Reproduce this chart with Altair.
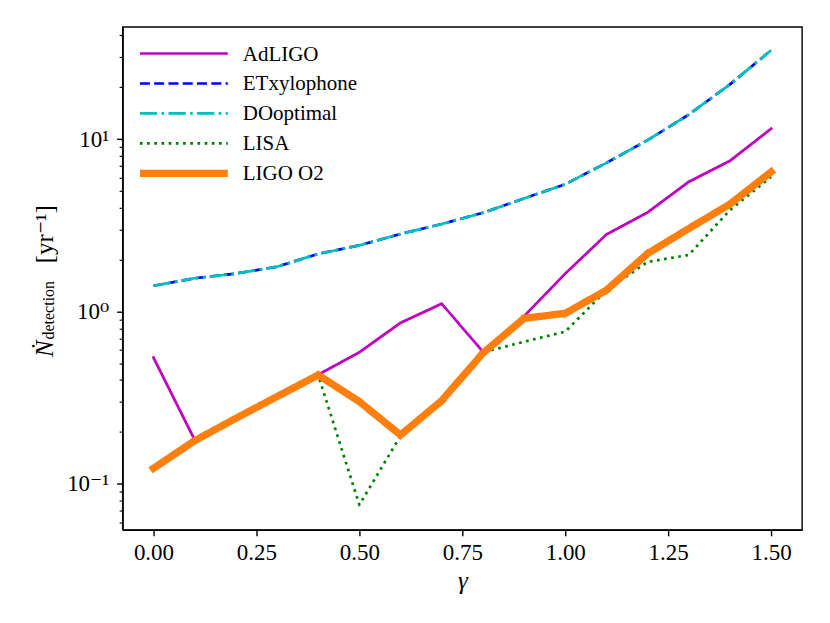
import altair as alt
import pandas as pd

# ---- data ----
gamma = [0.0, 0.1, 0.2, 0.3, 0.4, 0.5, 0.6, 0.7, 0.8, 0.9, 1.0, 1.1, 1.2, 1.3, 1.4, 1.5]
adligo = [0.54, 0.18, 0.24, 0.321, 0.43, 0.58, 0.86, 1.11, 0.585, 0.94, 1.66, 2.8, 3.76, 5.66, 7.49, 11.5]
etxylophone = [1.41, 1.56, 1.66, 1.82, 2.16, 2.42, 2.82, 3.22, 3.74, 4.53, 5.48, 7.29, 9.87, 13.9, 20.8, 32.8]
dooptimal = [1.41, 1.56, 1.66, 1.82, 2.16, 2.42, 2.82, 3.22, 3.74, 4.53, 5.48, 7.29, 9.87, 13.9, 20.8, 32.8]
lisa = [0.123, 0.178, 0.24, 0.321, 0.428, 0.0755, 0.19, 0.304, 0.58, 0.668, 0.764, 1.33, 1.94, 2.13, 3.88, 6.04]
ligo_o2 = [0.123, 0.178, 0.24, 0.321, 0.428, 0.30, 0.192, 0.304, 0.573, 0.913, 0.976, 1.33, 2.17, 3.03, 4.2, 6.46]

names = ["AdLIGO", "ETxylophone", "DOoptimal", "LISA", "LIGO O2"]
series = [adligo, etxylophone, dooptimal, lisa, ligo_o2]
colors = ["#bf00bf", "#0000ff", "#00bfbf", "#008000", "#ff7f0e"]
dashes = [[1, 0], [10, 4.3], [17.3, 4.3, 2.7, 4.3], [2.7, 4.5], [1, 0]]
widths = [2.7, 2.7, 2.7, 2.7, 7.2]

x_ticks = [0.0, 0.25, 0.5, 0.75, 1.0, 1.25, 1.5]
y_major = [0.1, 1, 10]
y_minor = [0.06, 0.07, 0.08, 0.09, 0.2, 0.3, 0.4, 0.5, 0.6, 0.7, 0.8, 0.9,
           2, 3, 4, 5, 6, 7, 8, 9, 20, 30, 40]

rows = []
for n, vals in zip(names, series):
    for g, v in zip(gamma, vals):
        rows.append({"gamma": g, "value": v, "series": n})
df = pd.DataFrame(rows)
legend_df = pd.DataFrame({"series": names})

FONT = "Liberation Serif, Times New Roman, Times, DejaVu Serif, serif"

x_scale = alt.Scale(domain=[-0.075, 1.575], nice=False, zero=False)
y_scale = alt.Scale(type="log", domain=[0.0541, 44.8], nice=False)

x_axis = alt.Axis(values=x_ticks, format=".2f", title="γ", titleFontStyle="italic",
                  titleFontWeight="normal", titleFont=FONT, titleFontSize=25,
                  titlePadding=4, labelFont=FONT, labelFontSize=23, labelColor="black",
                  tickSize=6, tickWidth=1.4, tickColor="black", domainColor="black",
                  domainWidth=1.4, labelPadding=6, grid=False, labelFlush=False)
y_axis = alt.Axis(values=y_major, orient="left", title=None,
                  labelExpr="datum.value < 0.5 ? '10⁻¹' : (datum.value < 5 ? '10⁰' : '10¹')",
                  labelFont=FONT, labelFontSize=23, labelColor="black", labelPadding=8,
                  tickSize=6, tickWidth=1.4, tickColor="black", domainColor="black",
                  domainWidth=1.4, grid=False, labelBaseline="middle")
y_minor_axis = alt.Axis(values=y_minor, orient="left", title=None, labels=False,
                        tickSize=3.5, tickWidth=1.1, tickColor="black", domain=False,
                        grid=False)

color = alt.Color("series:N", scale=alt.Scale(domain=names, range=colors), legend=None)
dash = alt.StrokeDash("series:N", scale=alt.Scale(domain=names, range=dashes), legend=None)

layers = []
for n, d, w in zip(names, dashes, widths):
    cap = "square" if d == [1, 0] else "butt"
    layers.append(
        alt.Chart(df).transform_filter(alt.datum.series == n)
        .mark_line(strokeJoin="round", strokeCap=cap, strokeWidth=w)
        .encode(
            x=alt.X("gamma:Q", scale=x_scale, axis=x_axis),
            y=alt.Y("value:Q", scale=y_scale, axis=y_axis),
            color=color, strokeDash=dash,
            order="gamma:Q",
        )
    )
data_layer = alt.layer(*layers)

minor_layer = alt.Chart(df).mark_point(opacity=0).encode(
    x=alt.X("gamma:Q", scale=x_scale, axis=x_axis),
    y=alt.Y("value:Q", scale=y_scale, axis=y_minor_axis),
)

# ---- legend (drawn as a small layer with its own ordinal row scale) ----
leg_y = alt.Y("series:N",
              scale=alt.Scale(type="point", domain=names, range=[26.6, 146.6],
                              padding=0, paddingOuter=0),
              axis=None)
leg_lines = []
for n, w in zip(names, widths):
    leg_lines.append(
        alt.Chart(legend_df).transform_filter(alt.datum.series == n)
        .mark_rule(strokeWidth=w, strokeCap="butt")
        .encode(x=alt.value(17.3), x2=alt.value(105.3), y=leg_y,
                color=color, strokeDash=dash)
    )
leg_text = alt.Chart(legend_df).mark_text(
    align="left", baseline="middle", font=FONT, fontSize=21, color="black", dy=1
).encode(x=alt.value(120.3), y=leg_y, text="series:N")
legend_layer = alt.layer(*leg_lines, leg_text)


def label(text, x, y, size, style="normal", align="left", dx=0, dy=0):
    return alt.Chart(alt.Data(values=[{}])).mark_text(
        text=text, angle=270, align=align, baseline="alphabetic", font=FONT,
        fontSize=size, fontStyle=style, dx=dx, dy=dy, color="black"
    ).encode(x=alt.value(x), y=alt.value(y))


ylab = [
    label("Ṅ", -69.2, 330.3, 25, style="italic"),
    label("detection", -69.2, 330.3, 16, dx=17.5, dy=1),
    label("[yr⁻¹]", -69.2, 178.3, 25, align="right"),
]

chart = (
    alt.layer(data_layer, minor_layer, legend_layer, *ylab)
    .resolve_axis(y="independent")
    .resolve_scale(y="independent")
    .properties(
        width=680, height=503.3,
        autosize=alt.AutoSizeParams(type="none"),
        padding={"left": 114.7, "top": 18.7, "right": 20, "bottom": 90},
        background="white",
    )
    .configure_view(stroke="black", strokeWidth=1.4)
    .configure_axis(labelFont=FONT, titleFont=FONT)
    .configure_text(font=FONT)
)

chart.save("out.html", embed_options={"renderer": "svg", "actions": False})
